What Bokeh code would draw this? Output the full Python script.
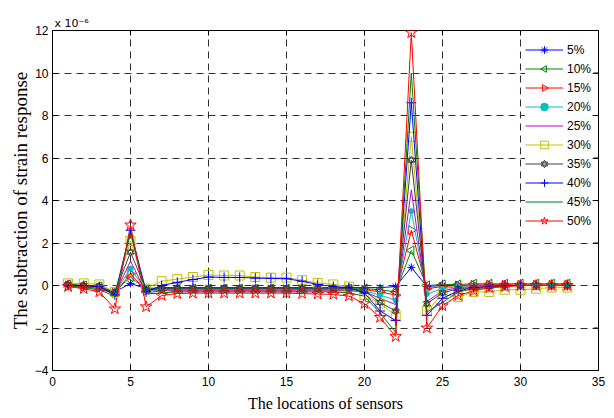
import math
from bokeh.plotting import figure
from bokeh.models import (Range1d, FixedTicker, Legend, LegendItem, ColumnDataSource)
from bokeh.embed import file_html
from bokeh.resources import INLINE

# sensor locations
sensors = list(range(1, 34))
series_labels = ["5%", "10%", "15%", "20%", "25%", "30%", "35%", "40%", "45%", "50%"]

# subtraction of strain response (x 1e-6)
s05 = [0.0, -0.05, -0.1, -0.3, 0.1, -0.15, -0.1, -0.1, -0.1, -0.1, -0.1, -0.1, -0.1, -0.1, -0.1, -0.1,
       -0.1, -0.1, -0.1, -0.1, -0.1, -0.05, 0.85, -0.05, 0.0, 0.0, 0.0, 0.0, 0.0, 0.0, 0.0, 0.0, 0.0]
s10 = [0.05, 0.0, -0.05, -0.3, 0.4, -0.2, -0.15, -0.15, -0.15, -0.15, -0.15, -0.15, -0.15, -0.15, -0.15, -0.15,
       -0.15, -0.15, -0.15, -0.15, -0.2, -0.3, 1.65, 0.0, 0.05, 0.05, 0.08, 0.08, 0.08, 0.08, 0.08, 0.08, 0.08]
s15 = [0.0, -0.05, -0.1, -0.35, 0.55, -0.25, -0.2, -0.2, -0.2, -0.2, -0.2, -0.2, -0.2, -0.2, -0.2, -0.2,
       -0.2, -0.2, -0.2, -0.2, -0.3, -0.45, 2.6, -0.15, -0.05, 0.0, 0.03, 0.03, 0.03, 0.03, 0.03, 0.03, 0.03]
s20 = [0.0, -0.05, -0.15, -0.35, 0.8, -0.25, -0.2, -0.2, -0.2, -0.2, -0.2, -0.2, -0.2, -0.2, -0.2, -0.2,
       -0.2, -0.2, -0.2, -0.25, -0.45, -0.7, 3.5, -0.4, -0.15, -0.05, 0.0, 0.0, 0.0, 0.0, 0.0, 0.0, 0.0]
s25 = [0.0, -0.05, -0.15, -0.4, 1.15, -0.35, -0.25, -0.25, -0.25, -0.25, -0.25, -0.25, -0.25, -0.25, -0.25, -0.25,
       -0.25, -0.25, -0.25, -0.3, -0.6, -0.9, 4.5, -0.75, -0.25, -0.1, -0.05, 0.0, 0.0, 0.0, 0.0, 0.0, 0.0]
s30 = [0.1, 0.1, 0.05, -0.3, 2.1, -0.15, 0.2, 0.3, 0.4, 0.5, 0.47, 0.47, 0.4, 0.37, 0.37, 0.25,
       0.12, 0.05, -0.05, -0.45, -0.85, -1.4, 7.0, -1.2, -0.4, -0.55, -0.3, -0.3, -0.2, -0.2, -0.15, -0.1, -0.1]
s35 = [0.05, 0.0, -0.05, -0.35, 1.57, -0.2, -0.15, -0.15, -0.15, -0.15, -0.15, -0.15, -0.15, -0.15, -0.15, -0.15,
       -0.15, -0.15, -0.15, -0.25, -0.8, -1.2, 5.9, -0.85, -0.35, -0.15, -0.1, -0.05, 0.0, 0.0, 0.0, 0.0, 0.0]
s40 = [0.0, 0.0, -0.05, -0.45, 2.6, -0.3, 0.0, 0.15, 0.28, 0.4, 0.38, 0.38, 0.35, 0.33, 0.32, 0.2,
       0.05, -0.05, -0.1, -0.35, -1.2, -1.65, 8.6, -1.4, -0.6, -0.25, -0.1, -0.05, 0.0, 0.0, 0.0, 0.0, 0.0]
s45 = [0.0, -0.1, -0.2, -0.5, 2.45, -0.4, -0.35, -0.3, -0.3, -0.3, -0.3, -0.3, -0.3, -0.3, -0.3, -0.3,
       -0.3, -0.3, -0.35, -0.5, -1.3, -2.2, 10.0, -1.25, -0.8, -0.3, -0.15, -0.1, -0.05, 0.0, 0.0, 0.0, 0.0]
s50 = [-0.05, -0.15, -0.3, -1.1, 2.85, -1.0, -0.47, -0.38, -0.36, -0.36, -0.36, -0.36, -0.36, -0.36, -0.36, -0.38,
       -0.4, -0.42, -0.5, -0.85, -1.5, -2.4, 11.9, -2.0, -0.95, -0.47, -0.25, -0.1, -0.05, 0.0, 0.0, 0.0, 0.0]

x_ticks = [0, 5, 10, 15, 20, 25, 30, 35]
y_ticks = [-4, -2, 0, 2, 4, 6, 8, 10, 12]
x_min, x_max = 0, 35
y_min, y_max = -4, 12

all_series = [s05, s10, s15, s20, s25, s30, s35, s40, s45, s50]
colors = ["#0000ff", "#008000", "#ff0000", "#00bfbf", "#bf00bf",
          "#bfbf00", "#404040", "#0000ff", "#008000", "#ff0000"]
# (marker, size, filled); triangles/hexagram are drawn as rotated n-gons
markers = [("asterisk", 8, False), ("tri_left", 9, False), ("tri_right", 9, False),
           ("circle", 5, True), (None, 0, False), ("square", 9, False), ("hexagram", 8, False),
           ("cross", 10, False), (None, 0, False), ("star", 12, False)]

p = figure(width=614, height=418, output_backend="svg", toolbar_location=None,
           x_range=Range1d(x_min, x_max), y_range=Range1d(y_min, y_max),
           min_border_left=52, min_border_right=16, min_border_top=30, min_border_bottom=48)
p.background_fill_color = "white"
p.border_fill_color = "white"
p.outline_line_color = "black"
p.outline_line_width = 1

p.title.text = "x 10\u207b\u2076"
p.title.align = "left"
p.title.offset = 2
p.title.standoff = 2
p.title.text_font = "DejaVu Sans"
p.title.text_font_size = "11px"
p.title.text_font_style = "normal"
p.title.text_color = "black"

tick_font = "Liberation Sans"
for ax in (p.xaxis[0], p.yaxis[0]):
    ax.major_tick_in = 5
    ax.major_tick_out = 0
    ax.minor_tick_in = 0
    ax.minor_tick_out = 0
    ax.major_label_text_font = tick_font
    ax.major_label_text_font_size = "12px"
    ax.major_label_text_color = "black"
    ax.axis_line_color = "black"
    ax.major_tick_line_color = "black"
    ax.axis_label_text_font = "Liberation Serif"
    ax.axis_label_text_font_style = "normal"
    ax.axis_label_text_color = "black"

p.xaxis[0].ticker = FixedTicker(ticks=x_ticks)
p.yaxis[0].ticker = FixedTicker(ticks=y_ticks)
p.xaxis[0].axis_label = "The locations of sensors"
p.yaxis[0].axis_label = "The subtraction of strain response"
p.xaxis[0].axis_label_text_font_size = "16px"
p.yaxis[0].axis_label_text_font_size = "19px"
p.xaxis[0].major_label_standoff = 6
p.yaxis[0].major_label_standoff = 4
p.xaxis[0].axis_label_standoff = 6
p.yaxis[0].axis_label_standoff = 1

p.xgrid.ticker = FixedTicker(ticks=x_ticks)
p.ygrid.ticker = FixedTicker(ticks=y_ticks)
for g in (p.xgrid[0], p.ygrid[0]):
    g.grid_line_color = "#303030"
    g.grid_line_dash = "7 5"
    g.grid_line_width = 1

# inward ticks on the top and right edges of the box (half of each cross is clipped)
p.scatter(x=x_ticks, y=[y_max] * len(x_ticks), marker="cross", size=10,
          line_color="black", line_width=1)
p.scatter(x=[x_max] * len(y_ticks), y=y_ticks, marker="cross", size=10,
          line_color="black", line_width=1)

items = []
for label, vals, col, mk in zip(series_labels, all_series, colors, markers):
    name, size, filled = mk
    src = ColumnDataSource(data=dict(x=sensors, y=vals))
    rends = [p.line("x", "y", source=src, line_color=col, line_width=1)]
    if name in ("tri_left", "tri_right"):
        ang = math.pi / 2 if name == "tri_left" else -math.pi / 2
        rends.append(p.ngon("x", "y", radius=size * 0.58, radius_units="screen", n=3,
                            angle=ang, source=src, line_color=col, line_width=1,
                            fill_color=None))
    elif name == "hexagram":
        for ang in (0.0, math.pi):
            rends.append(p.ngon("x", "y", radius=size * 0.5, radius_units="screen", n=3,
                                angle=ang, source=src, line_color=col, line_width=1,
                                fill_color=None))
    elif name is not None:
        rends.append(p.scatter("x", "y", source=src, marker=name, size=size,
                               line_color=col, line_width=1,
                               fill_color=col if filled else None))
    items.append(LegendItem(label=label, renderers=rends))

legend = Legend(items=items, location=(473, 140), margin=0, padding=10, spacing=0,
                glyph_width=38, glyph_height=19, label_height=19, label_standoff=4,
                label_text_font=tick_font, label_text_font_size="12px",
                label_text_color="black", border_line_color=None,
                background_fill_color="white", background_fill_alpha=1.0)
p.add_layout(legend)

open("out.html", "w").write(file_html(p, INLINE))
